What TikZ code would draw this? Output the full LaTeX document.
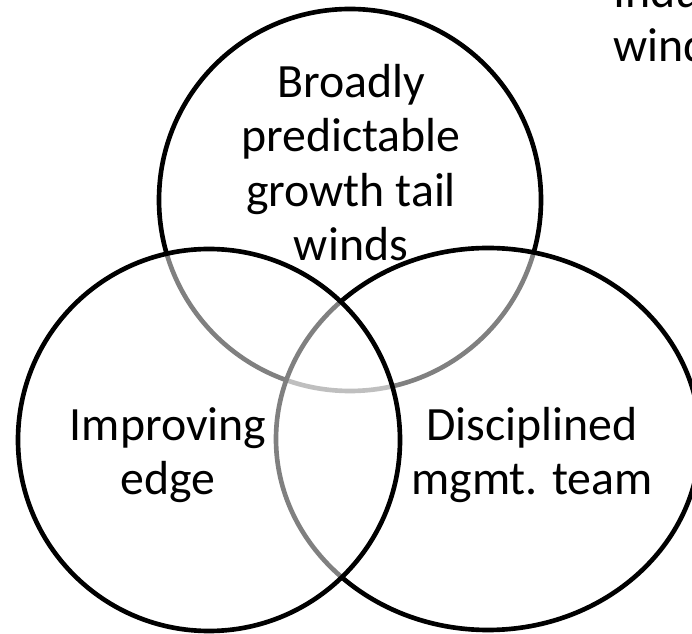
\documentclass[tikz,border=0pt]{standalone}
\usepackage{fontspec}
\setmainfont{Carlito}
\tikzset{
  ring/.style={draw=black, line width=3.3pt, fill=white, fill opacity=0.5},
  venntext/.style={align=center, inner sep=0pt, font=\fontsize{34}{38.6}\selectfont}
}
\begin{document}
\begin{tikzpicture}
            \clip (0,0) rectangle (17.3,15.825);
            \fill[white] (0,0) rectangle (17.3,15.825);

            \draw[ring] (8.75,10.825) circle (4.775);
            \draw[ring] (12.2,4.85) ellipse [x radius=5.3, y radius=4.775];
            \draw[ring] (5.225,4.825) circle (4.775);

            \node[venntext] (growth) at (8.775,11.76) {Broadly\\predictable\\growth tail\\winds};
            \node[venntext] (edge) at (4.2,4.45) {Improving\\edge};
            \node[venntext] (mgmt) at (13.3,4.45) {Disciplined\\mgmt. team};
            \node[venntext, align=left, anchor=south west] (industry) at (15.325,14.27) {Indu\\wind};
        \end{tikzpicture}
\end{document}
